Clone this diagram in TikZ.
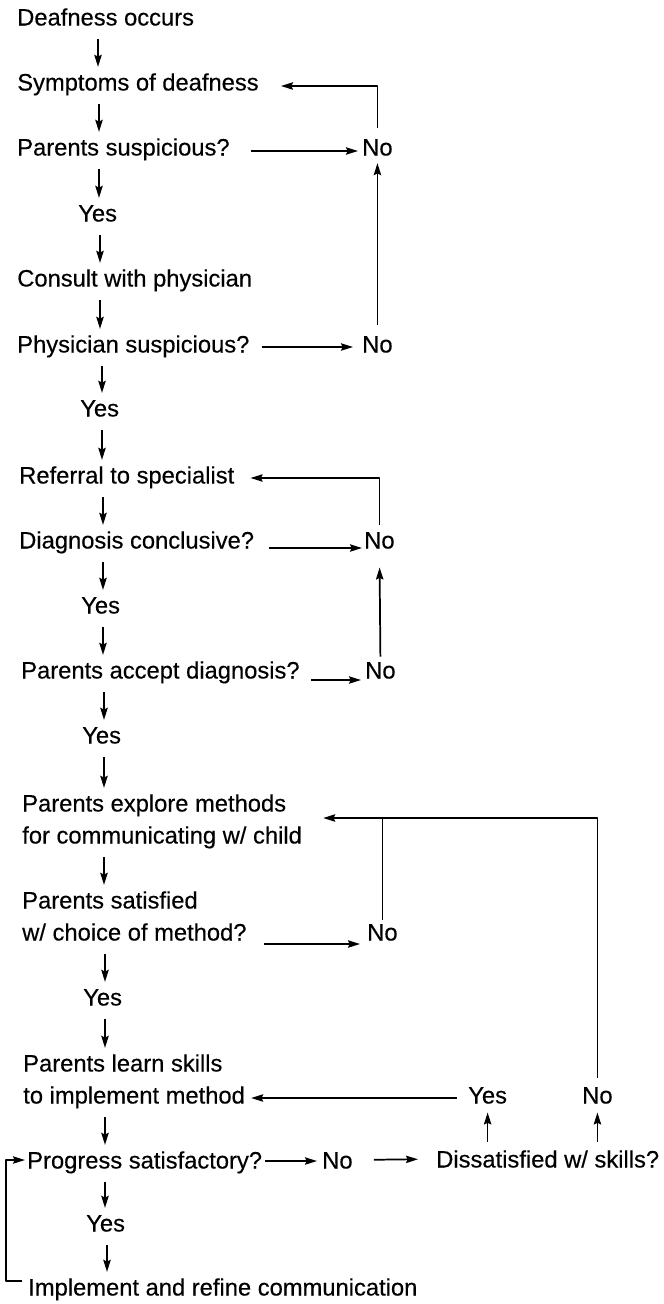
\documentclass[tikz,border=0pt]{standalone}
\usepackage{fontspec}
\setmainfont{Liberation Sans}[FakeBold=0.35]
\usepackage{tikz}
\usetikzlibrary{arrows.meta,calc}

\begin{document}
\begin{tikzpicture}[x=0.75pt,y=-0.75pt,>={Stealth[length=9pt,width=5.5pt,inset=1.2pt]},line join=round,
  txt/.style={anchor=west,inner sep=0pt,font=\fontsize{17.8}{21}\selectfont,text height=12.75pt,text depth=0pt},
  flow/.style={->,line width=1.3pt},
  down/.style={flow,shorten <=10pt,shorten >=4.75pt}]
  \useasboundingbox (0,0) rectangle (664,1304);
  \node[txt] (deaf) at (17,17) {Deafness occurs};
  \node[txt] (sympt) at (17,82) {Symptoms of deafness};
  \node[txt] (psus) at (17,147) {Parents suspicious?};
  \node[txt] (no1) at (362,147) {No};
  \node[txt] (yes1) at (78,213) {Yes};
  \node[txt] (consult) at (17,278) {Consult with physician};
  \node[txt] (phys) at (17,344) {Physician suspicious?};
  \node[txt] (no2) at (362,344) {No};
  \node[txt] (yes2) at (80,408) {Yes};
  \node[txt] (refer) at (19,475) {Referral to specialist};
  \node[txt] (diag) at (19,540) {Diagnosis conclusive?};
  \node[txt] (no3) at (364,540) {No};
  \node[txt] (yes3) at (81,605) {Yes};
  \node[txt] (accept) at (21,670) {Parents accept diagnosis?};
  \node[txt] (no4) at (365,670) {No};
  \node[txt] (yes4) at (82,735) {Yes};
  \node[txt] (explore) at (22,803) {Parents explore methods};
  \node[txt] (explore2) at (22,835) {for communicating w/ child};
  \node[txt] (satis) at (22,900) {Parents satisfied};
  \node[txt] (satis2) at (22,932) {w/ choice of method?};
  \node[txt] (no5) at (367,932) {No};
  \node[txt] (yes5) at (83,997) {Yes};
  \node[txt] (learn) at (23,1063) {Parents learn skills};
  \node[txt] (learn2) at (23,1095) {to implement method};
  \node[txt] (yes7) at (468,1095) {Yes};
  \node[txt] (no7) at (582,1095) {No};
  \node[txt] (prog) at (27,1160) {Progress satisfactory?};
  \node[txt] (no6) at (322,1160) {No};
  \node[txt] (dissat) at (436,1159) {Dissatisfied w/ skills?};
  \node[txt] (yes6) at (86,1223) {Yes};
  \node[txt] (impl) at (28,1287) {Implement and refine communication};
  \coordinate (explin) at ([xshift=15.75pt,yshift=12.75pt]explore2.east);
  \draw[down] (deaf.south -| 98,0) -- (sympt.north -| 98,0);
  \draw[down] (sympt.south -| 99,0) -- (psus.north -| 99,0);
  \draw[down] (psus.south -| 99,0) -- (yes1.north -| 99,0);
  \draw[down] (yes1.south -| 100,0) -- (consult.north -| 100,0);
  \draw[down] (consult.south -| 100,0) -- (phys.north -| 100,0);
  \draw[down] (phys.south -| 102,0) -- (yes2.north -| 102,0);
  \draw[down] (yes2.south -| 102,0) -- (refer.north -| 102,0);
  \draw[down] (refer.south -| 103,0) -- (diag.north -| 103,0);
  \draw[down] (diag.south -| 103,0) -- (yes3.north -| 103,0);
  \draw[down] (yes3.south -| 103,0) -- (accept.north -| 103,0);
  \draw[down] (accept.south -| 104,0) -- (yes4.north -| 104,0);
  \draw[down] (yes4.south -| 104,0) -- (explore.north -| 104,0);
  \draw[down] (explore2.south -| 104,0) -- (satis.north -| 104,0);
  \draw[down] (satis2.south -| 105,0) -- (yes5.north -| 105,0);
  \draw[down] (yes5.south -| 105,0) -- (learn.north -| 105,0);
  \draw[down] (learn2.south -| 105,0) -- (prog.north -| 105,0);
  \draw[down] (prog.south -| 105,0) -- (yes6.north -| 105,0);
  \draw[down] (yes6.south -| 107,0) -- (impl.north -| 107,0);
  \draw[flow,shorten <=15.75pt,shorten >=3pt] ([yshift=-3pt]psus.east) -- ([yshift=-3pt]no1.west);
  \draw[flow,shorten <=9pt,shorten >=6.75pt] ([yshift=-2.25pt]phys.east) -- ([yshift=-2.25pt]no2.west);
  \draw[flow,shorten <=11.25pt,shorten >=1.5pt] ([yshift=-6pt]diag.east) -- ([yshift=-6pt]no3.west);
  \draw[flow,shorten <=8.25pt,shorten >=3pt] ([yshift=-7.5pt]accept.east) -- ([yshift=-7.5pt]no4.west);
  \draw[flow,shorten <=12.75pt,shorten >=5.25pt] ([yshift=-9pt]satis2.east) -- ([yshift=-9pt]no5.west);
  \draw[flow,shorten <=2.25pt,shorten >=3.75pt] ([yshift=-0.75pt]prog.east) -- ([yshift=-0.75pt]no6.west);
  \draw[flow,shorten <=15.75pt,shorten >=13.5pt] (no6.east) -- (dissat.west);
  \draw[flow,shorten <=8.25pt,shorten >=4.5pt] ([yshift=-2.25pt]yes7.west) -- ([yshift=-2.25pt]learn2.east);
  \draw[flow,shorten <=7.5pt] (no1.north) |- ([xshift=16.5pt,yshift=-3pt]sympt.east);
  \draw[flow,shorten <=7.5pt,shorten >=5.5pt] (no2.north) -- (no1.south);
  \draw[flow,shorten <=5pt] (no3.north) |- ([xshift=12pt,yshift=-2.25pt]refer.east);
  \draw[flow,shorten <=3.5pt,shorten >=14pt] (no4.north) -- (no3.south);
  \draw[flow,shorten <=6.5pt] (no7.north) |- (explin);
  \draw[line width=1.3pt,shorten <=2.5pt] (no5.north) -- (no5.north |- explin);
  \draw[flow,shorten <=6.5pt,shorten >=6.5pt] (dissat.north -| yes7.south) -- (yes7.south);
  \draw[flow,shorten <=6.5pt,shorten >=6.5pt] (dissat.north -| no7.south) -- (no7.south);
  \draw[flow,shorten >=1.5pt] ([xshift=-4.5pt,yshift=4.5pt]impl.west) -- ++(-16,0) |- (prog.west);
\end{tikzpicture}
\end{document}
